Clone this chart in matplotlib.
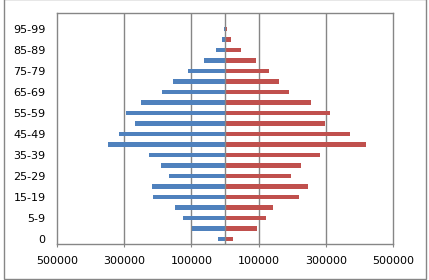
import matplotlib
matplotlib.use("Agg")
import matplotlib.pyplot as plt
from matplotlib.patches import Rectangle

age_groups = ["0", "1-4", "5-9", "10-14", "15-19", "20-24", "25-29", "30-34",
              "35-39", "40-44", "45-49", "50-54", "55-59", "60-64", "65-69",
              "70-74", "75-79", "80-84", "85-89", "90-94", "95-99", "100+"]
male = [21000, 99000, 126000, 149000, 215000, 218000, 166000, 189000,
        227000, 349000, 316000, 268000, 295000, 250000, 188000,
        155000, 111000, 62000, 28000, 8000, 1500, 500]
female = [23000, 94000, 121000, 142000, 219000, 246000, 195000, 225000,
          281000, 418000, 370000, 297000, 313000, 256000, 189000,
          161000, 132000, 93000, 48000, 19000, 5000, 1000]
x_ticks = [-500000, -300000, -100000, 100000, 300000, 500000]
x_tick_labels = ["500000", "300000", "100000", "100000", "300000", "500000"]

fig = plt.figure(figsize=(4.29, 2.80), dpi=100)
ax = fig.add_axes([56.7/429, 1-244.3/280, (393.3-56.7)/429, (244.3-13.3)/280])

y = list(range(len(age_groups)))
ax.barh(y, [-v for v in male], height=0.42, color="#4F81BD", zorder=3)
ax.barh(y, female, height=0.42, color="#C0504D", zorder=3)

ax.set_xlim(-500000, 500000)
ax.set_ylim(-0.5, len(age_groups) - 0.5)
ax.set_xticks(x_ticks)
ax.set_xticklabels(x_tick_labels, fontsize=8)
ax.set_yticks(y[::2])
ax.set_yticklabels(age_groups[::2], fontsize=8)
ax.tick_params(axis="y", length=0, pad=8)
ax.tick_params(axis="x", length=2.5, direction="out", pad=6, color="#868686")

for xv in x_ticks[1:-1]:
    ax.axvline(xv, color="#868686", lw=1.0, zorder=1)
ax.axvline(0, color="#868686", lw=1.0, zorder=4)
for s in ax.spines.values():
    s.set_color("#868686")
    s.set_linewidth(1.0)

fig.patches.append(Rectangle((4/429, 1-279/280), (426-4)/429, 1.0,
                             transform=fig.transFigure, fill=False,
                             edgecolor="#868686", lw=1.0))

fig.savefig("out.png", dpi=100)
